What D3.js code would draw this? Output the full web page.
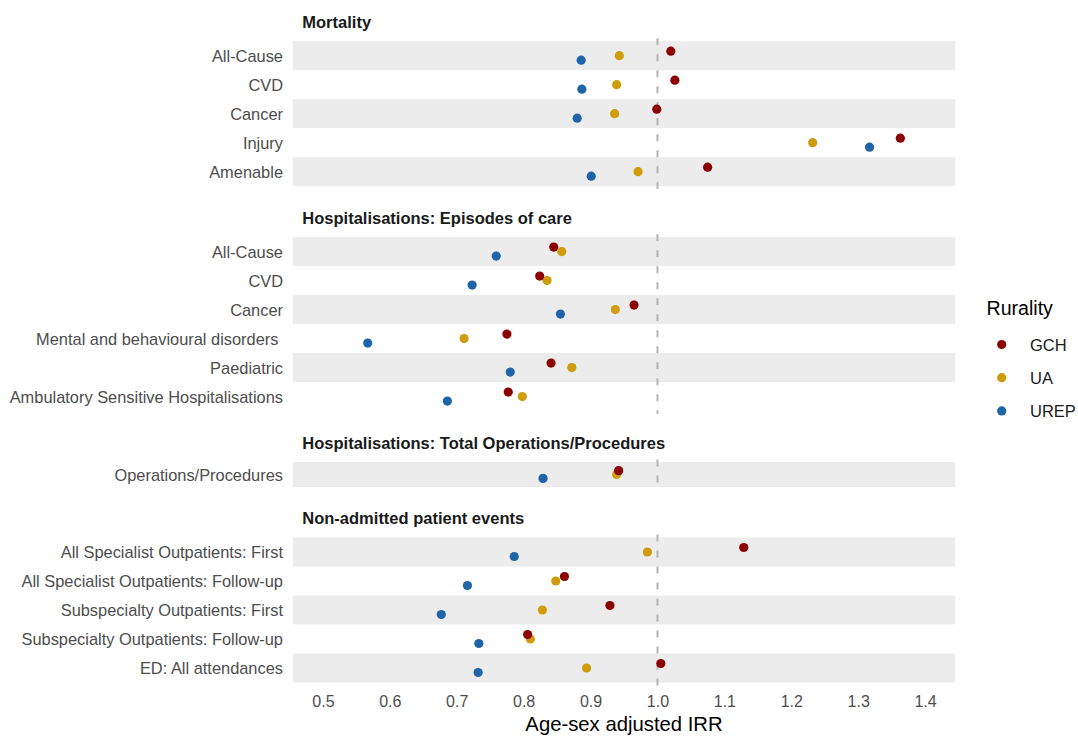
<!DOCTYPE html>
<html>
<head>
<meta charset="utf-8">
<script src="https://cdn.jsdelivr.net/npm/d3@7"></script>
<style>
  html, body { margin: 0; padding: 0; background: #ffffff; }
  svg { display: block; font-family: "Liberation Sans", Arial, Helvetica, sans-serif; }
</style>
</head>
<body>
<svg id="chart" width="1078" height="736"></svg>
<script>
// ---------------- DATA ----------------
const facetTitles = [
  "Mortality",
  "Hospitalisations: Episodes of care",
  "Hospitalisations: Total Operations/Procedures",
  "Non-admitted patient events"
];
const mortalityCats = ["All-Cause", "CVD", "Cancer", "Injury", "Amenable"];
const episodeCats = ["All-Cause", "CVD", "Cancer", "Mental and behavioural disorders ", "Paediatric", "Ambulatory Sensitive Hospitalisations"];
const procedureCats = ["Operations/Procedures"];
const nonAdmittedCats = ["All Specialist Outpatients: First", "All Specialist Outpatients: Follow-up", "Subspecialty Outpatients: First", "Subspecialty Outpatients: Follow-up", "ED: All attendances"];

const seriesNames = ["GCH", "UA", "UREP"];
// values listed facet by facet, in the row order above
const gchValues  = [1.020, 1.026, 0.999, 1.363, 1.075,
                    0.845, 0.824, 0.965, 0.775, 0.841, 0.777,
                    0.942,
                    1.129, 0.861, 0.929, 0.806, 1.005];
const uaValues   = [0.943, 0.939, 0.936, 1.232, 0.971,
                    0.857, 0.835, 0.937, 0.711, 0.872, 0.798,
                    0.939,
                    0.985, 0.848, 0.828, 0.810, 0.894];
const urepValues = [0.886, 0.887, 0.880, 1.317, 0.901,
                    0.759, 0.723, 0.855, 0.567, 0.780, 0.686,
                    0.829,
                    0.786, 0.716, 0.677, 0.733, 0.732];

const xTicks = [0.5, 0.6, 0.7, 0.8, 0.9, 1.0, 1.1, 1.2, 1.3, 1.4];
const xTitle = "Age-sex adjusted IRR";
const legendTitle = "Rurality";
const referenceValue = 1.0;

// ---------------- LAYOUT / STYLE ----------------
const colors = { GCH: "#8b0000", UA: "#cf9c0c", UREP: "#1f64a8" };
const panelLeft = 292.8, panelRight = 955.2;
const panelTops = [38.3, 234.2, 459.5, 534.6];
const rowUnits = [29, 29, 25, 29];
const dodge = 0.155;   // fraction of a row unit
const dotR = 4.6;
const labelFont = 16.4;

const svg = d3.select("#chart");
const x = d3.scaleLinear().domain([0.455, 1.445]).range([panelLeft, panelRight]);

const catsByFacet = [mortalityCats, episodeCats, procedureCats, nonAdmittedCats];
const valuesBySeries = { GCH: gchValues, UA: uaValues, UREP: urepValues };

let rowIndex = 0;
catsByFacet.forEach((cats, f) => {
  const unit = rowUnits[f];
  const top = panelTops[f];
  const h = unit * (cats.length + 0.2);
  const y = d3.scalePoint().domain(cats.map((c, i) => i)).range([top, top + h]).padding(0.6);
  if (cats.length === 1) y.range([top, top + h]);

  const g = svg.append("g");

  // alternating bands
  g.selectAll("rect.band").data(cats.map((c, i) => i).filter(i => i % 2 === 0))
    .enter().append("rect")
    .attr("x", panelLeft).attr("width", panelRight - panelLeft)
    .attr("y", i => y(i) - unit / 2).attr("height", unit)
    .attr("fill", "#ececec");

  // reference line
  g.append("line")
    .attr("x1", x(referenceValue)).attr("x2", x(referenceValue))
    .attr("y1", top).attr("y2", top + h)
    .attr("stroke", "#b4b4b4").attr("stroke-width", 2)
    .attr("stroke-dasharray", "7,9");

  // facet strip title
  svg.append("text")
    .attr("x", panelLeft + 9.5).attr("y", top - 10.3)
    .attr("font-size", 16.5).attr("font-weight", "bold").attr("fill", "#1a1a1a")
    .text(facetTitles[f]);

  // y labels
  g.selectAll("text.ylab").data(cats).enter().append("text")
    .attr("x", 283).attr("y", (c, i) => y(i) + 6)
    .attr("text-anchor", "end").attr("font-size", labelFont).attr("fill", "#4d4d4d")
    .style("white-space", "pre")
    .text(c => c);

  // dots (draw UREP, UA, then GCH on top)
  const offsets = { GCH: -dodge, UA: 0, UREP: dodge };
  const pts = [];
  ["UREP", "UA", "GCH"].forEach(s => {
    cats.forEach((c, i) => {
      pts.push({ s, i, v: valuesBySeries[s][rowIndex + i] });
    });
  });
  g.selectAll("circle").data(pts).enter().append("circle")
    .attr("cx", d => x(d.v))
    .attr("cy", d => y(d.i) + offsets[d.s] * unit)
    .attr("r", dotR)
    .attr("fill", d => colors[d.s]);

  rowIndex += cats.length;
});

// x axis
const lastBottom = panelTops[3] + rowUnits[3] * (nonAdmittedCats.length + 0.2);
const axis = svg.append("g")
  .attr("transform", `translate(0,${lastBottom})`)
  .call(d3.axisBottom(x).tickValues(xTicks).tickSize(0).tickPadding(10).tickFormat(d3.format(".1f")));
axis.select(".domain").remove();
axis.selectAll("text")
  .attr("font-size", 16).attr("fill", "#4d4d4d")
  .attr("font-family", "'Liberation Sans', Arial, Helvetica, sans-serif");

svg.append("text")
  .attr("x", (panelLeft + panelRight) / 2).attr("y", 731)
  .attr("text-anchor", "middle").attr("font-size", 20.3).attr("fill", "#000")
  .text(xTitle);

// legend
const lg = svg.append("g");
lg.append("text").attr("x", 986.5).attr("y", 314.5)
  .attr("font-size", 19.6).attr("fill", "#000").text(legendTitle);
seriesNames.forEach((s, i) => {
  const ly = 344.5 + i * 33.2;
  lg.append("circle").attr("cx", 1001.7).attr("cy", ly).attr("r", dotR).attr("fill", colors[s]);
  lg.append("text").attr("x", 1030).attr("y", ly + 6.5)
    .attr("font-size", 16.5).attr("fill", "#1a1a1a").text(s);
});
</script>
</body>
</html>
